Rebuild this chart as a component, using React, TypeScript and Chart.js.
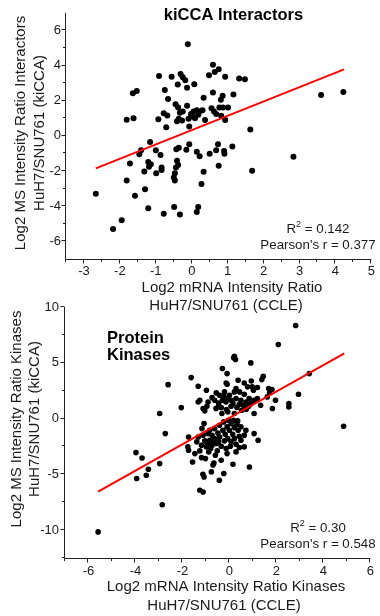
import React, { useEffect, useRef } from 'react';
import { Chart, registerables } from 'chart.js';

Chart.register(...registerables);

const FONT = '"Liberation Sans", Arial, Helvetica, sans-serif';

// ---------- Top chart: kiCCA Interactors ----------
const topX = [
  -0.11, 0.59, 0.75, 0.64, 0.48, 0.93, 1.32, 1.48, -0.91, -0.56, -0.31, -0.25, -0.18, -0.39, 0.07, -0.13,
  0.59, 1.16, 0.86, 0.81, 0.33, -0.75, -0.66, -1.64, -1.53, -0.45, -0.13, -0.78, -0.68, -0.38, -0.33, -0.25,
  -0.36, -0.41, -0.27, -0.09, -0.02, 0.05, 0.14, 0.22, 0.30, 0.37, 0.02, 0.09, 0.18, 0.55, 0.62, 0.77,
  0.87, 1.01, 0.68, 0.82, 0.93, -0.93, -0.71, -0.07, -1.81, -1.62, 1.63, -1.16, -1.41, -1.46, -1.00, -0.87,
  -0.43, -0.36, -0.07, -0.15, 0.14, 0.22, 0.50, 0.68, 0.73, 0.90, 0.91, 1.13, -1.72, -1.21, -1.14, -1.19,
  -0.84, -0.84, -0.41, -0.38, -0.44, 0.75, 1.68, -1.32, -0.99, -0.47, -0.50, 0.33, -0.47, -1.81, 0.27, -1.30,
  -1.58, -2.67, -1.21, -0.49, 0.18, 0.14, -0.78, -0.33, -1.95, -2.19, 2.83, 3.60, 4.22,
];
const topY = [
  5.21, 4.04, 3.79, 3.63, 3.45, 3.37, 3.26, 3.22, 3.41, 3.37, 3.52, 3.34, 3.17, 2.92, 2.94, 2.74,
  2.47, 2.36, 2.29, 2.05, 2.17, 2.61, 2.10, 2.42, 2.55, 1.80, 1.72, 1.29, 1.16, 1.61, 1.31, 1.39,
  0.98, 0.83, 0.87, 0.98, 1.24, 1.39, 1.46, 1.39, 1.46, 0.90, 1.11, 1.01, 1.20, 1.57, 1.39, 1.61,
  1.61, 1.61, 1.24, 1.15, 0.90, 0.94, 0.49, 0.54, 0.92, 1.01, 0.36, -0.34, -0.82, -1.05, -0.82, -1.08,
  -0.76, -0.67, -0.48, -0.79, -0.90, -1.16, -1.01, -0.82, -0.48, -0.86, -1.01, -0.60, -1.57, -1.48, -1.61, -1.76,
  -1.80, -1.94, -1.42, -1.65, -1.80, -1.70, -1.98, -2.02, -2.13, -2.13, -2.36, -2.04, -2.54, -2.54, -2.73, -3.03,
  -3.40, -3.29, -4.12, -4.04, -4.04, -4.33, -4.42, -4.47, -4.79, -5.30, -1.18, 2.32, 2.50,
];
const topFitX = [-2.67, 4.24];
const topFitY = [-1.85, 3.78];
const topXMajor = [-3, -2, -1, 0, 1, 2, 3, 4, 5];
const topXMinor = [-3.5, -2.5, -1.5, -0.5, 0.5, 1.5, 2.5, 3.5, 4.5];
const topYMajor = [-6, -4, -2, 0, 2, 4, 6];
const topYMinor = [-5, -3, -1, 1, 3, 5];

// ---------- Bottom chart: Protein Kinases ----------
const botX = [
  2.82, 2.08, 3.40, 2.94, 2.53, 2.53, -2.61, -1.63, -2.05, -2.97, -2.73, -3.98, -3.72, -3.45, -3.54, -3.95,
  -2.97, -2.86, -5.59, -1.26, -1.12, 4.86,
  0.21, 0.26, 0.18, 0.91, -0.30, -0.10, 0.37, 0.93, 1.44, 1.38, -0.14, -0.10, -1.33, 0.97, 1.19, 1.67,
  1.81, 1.71, -0.98, -0.74, -0.21, 0.21, 0.43, -0.42, 0.00, 0.63, 0.84, 1.96, 1.83, -1.26, -1.33, -1.12,
  -1.05, -0.63, -0.46, -0.30, -0.15, 0.07, 0.28, 0.49, 0.71, 0.91, 1.05, -0.57, -0.35, -0.13, 0.07, 0.32,
  0.52, 0.71, -0.46, -0.96,
  0.35, -1.08, -1.17, 0.70, 1.05, 1.22, 0.07, -0.10, 0.21, -0.28, 0.37, 0.00, -0.49, -0.18, 0.14, 0.42,
  0.49, -1.74, -1.77, -1.74, -1.33, -1.12, -0.91, -0.74, -1.05, -0.84, -0.63, -0.42, -0.07, 0.21, -1.19, -0.98,
  -0.74, -0.56, -0.35, -0.14, 0.04, 0.28, 0.42, -1.26, -0.88, -0.52, -0.60, -1.02, -0.35, 0.15, 0.85, -1.57,
  -0.70, -1.13, -1.08, -0.77, -0.24, -0.43, -0.66,
  -0.24, -0.07, 0.15, 0.42, 0.60, 0.82, 1.19, 1.33, 1.02, 1.61, 0.77, 0.63, 0.28, -0.56, -0.91, -0.32,
  -0.07, 0.21, 1.05,
  -0.24, -0.04, 0.18, -0.42, -0.63, -0.84, 0.32, 0.49, 0.63, -0.21, 0.07, -0.46, -0.70, -0.94, -0.80, -0.10,
  0.28, 0.63, -1.39, -1.47, -1.19,
];
const botY = [
  8.34, 6.63, 4.03, 2.18, 1.34, 1.04, 3.04, 3.67, 0.98, 0.45, -1.35, -3.05, -3.53, -4.54, -5.08, -5.38,
  -4.04, -7.72, -10.16, -6.43, -6.58, -0.69,
  5.59, 5.29, 5.44, 4.99, 4.48, 4.03, 3.43, 3.37, 3.79, 3.49, 3.19, 3.07, 2.90, 2.84, 2.78, 2.69,
  2.60, 2.30, 2.54, 1.88, 2.39, 2.39, 2.39, 2.09, 2.09, 2.18, 1.79, 1.64, 0.90, 1.64, 1.49, 0.90,
  0.69, 1.64, 1.40, 1.64, 1.49, 1.64, 1.79, 1.64, 1.49, 1.34, 1.64, 0.90, 0.99, 0.81, 1.10, 0.99,
  0.75, 0.81, 1.19, 1.10,
  -0.21, -0.45, -0.90, -1.05, -1.35, -1.94, -0.45, -0.75, -0.81, -1.05, -1.05, -1.05, -1.29, -1.41, -1.41, -1.59,
  -1.94, -1.65, -2.54, -2.84, -1.65, -1.50, -1.35, -1.50, -2.00, -1.94, -1.80, -1.65, -1.80, -1.80, -2.39, -2.54,
  -2.39, -2.24, -2.48, -2.69, -2.48, -2.30, -2.60, -2.90, -2.99, -2.90, -3.29, -3.59, -3.74, -4.10, -4.34, -3.89,
  -4.16, -5.00, -5.24, -4.78, -4.93, -5.53, -3.98,
  2.00, 1.79, 1.34, 1.28, 1.19, 1.10, 1.79, 1.19, 2.54, 1.94, 2.84, 3.19, 2.69, 2.30, 1.49, 0.45,
  0.60, 0.45, 0.45,
  -0.30, -0.15, -0.15, -0.60, -0.90, -1.05, -0.51, -0.75, -1.50, -2.00, -2.09, -2.09, -2.09, -2.24, -2.69, -3.14,
  -2.99, -2.54, -2.09, -3.14, -3.50,
];
const botFitX = [-5.59, 4.89];
const botFitY = [-6.56, 5.84];
const botXMajor = [-6, -4, -2, 0, 2, 4, 6];
const botXMinor = [-7, -5, -3, -1, 1, 3, 5];
const botYMajor = [-10, -5, 0, 5, 10];
const botYMinor = [-12.5, -7.5, -2.5, 2.5, 7.5];

type Decor = {
  xMajor: number[];
  xMinor: number[];
  yMajor: number[];
  yMinor: number[];
  titleLines: string[];
  titleX: number;
  titleY: number[];
  titleAlign: CanvasTextAlign;
  yTitle: string[];
  yTitleX: number[];
  yTitleCy: number;
  xTitle: string[];
  xTitleX: number[];
  xTitleY: number[];
  r2: string;
  pearson: string;
  statsCx: number;
  statsY: number[];
};

function decorPlugin(d: Decor) {
  return {
    id: 'decor',
    afterDraw(chart: any) {
      const ctx: CanvasRenderingContext2D = chart.ctx;
      const { left, right, top, bottom } = chart.chartArea;
      const xs = chart.scales.x;
      const ys = chart.scales.y;
      ctx.save();
      // axes
      ctx.strokeStyle = '#222';
      ctx.lineWidth = 1;
      ctx.beginPath();
      ctx.moveTo(left - 0.5, top);
      ctx.lineTo(left - 0.5, bottom + 0.5);
      ctx.lineTo(right, bottom + 0.5);
      ctx.stroke();
      // ticks
      const tick = (v: number, len: number, axis: 'x' | 'y') => {
        if (axis === 'x') {
          const p = Math.round(xs.getPixelForValue(v)) - 0.5;
          ctx.moveTo(p, bottom + 0.5);
          ctx.lineTo(p, bottom + 0.5 + len);
        } else {
          const p = Math.round(ys.getPixelForValue(v)) - 0.5;
          ctx.moveTo(left - 0.5, p);
          ctx.lineTo(left - 0.5 - len, p);
        }
      };
      ctx.beginPath();
      d.xMajor.forEach((v) => tick(v, 4, 'x'));
      d.xMinor.forEach((v) => tick(v, 2.5, 'x'));
      d.yMajor.forEach((v) => tick(v, 4, 'y'));
      d.yMinor.forEach((v) => tick(v, 2.5, 'y'));
      ctx.stroke();

      // title
      ctx.fillStyle = '#000';
      ctx.font = `bold 16.5px ${FONT}`;
      ctx.textAlign = d.titleAlign;
      ctx.textBaseline = 'middle';
      d.titleLines.forEach((t, i) => ctx.fillText(t, d.titleX, d.titleY[i]));

      // axis titles
      ctx.fillStyle = '#1a1a1a';
      ctx.font = `15px ${FONT}`;
      ctx.textAlign = 'center';
      d.xTitle.forEach((t, i) => ctx.fillText(t, d.xTitleX[i], d.xTitleY[i]));
      d.yTitle.forEach((t, i) => {
        ctx.save();
        ctx.translate(d.yTitleX[i], d.yTitleCy);
        ctx.rotate(-Math.PI / 2);
        ctx.fillText(t, 0, 0);
        ctx.restore();
      });

      // stats
      const big = `13.3px ${FONT}`;
      const small = `9px ${FONT}`;
      ctx.textAlign = 'left';
      ctx.font = big;
      const wR = ctx.measureText('R').width;
      const rest = ` = ${d.r2}`;
      const wRest = ctx.measureText(rest).width;
      ctx.font = small;
      const w2 = ctx.measureText('2').width;
      const start = d.statsCx - (wR + w2 + wRest) / 2;
      ctx.font = big;
      ctx.fillText('R', start, d.statsY[0]);
      ctx.fillText(rest, start + wR + w2, d.statsY[0]);
      ctx.font = small;
      ctx.fillText('2', start + wR, d.statsY[0] - 4.5);
      ctx.font = big;
      ctx.textAlign = 'center';
      ctx.fillText(`Pearson's r = ${d.pearson}`, d.statsCx, d.statsY[1]);
      ctx.restore();
    },
  };
}

function buildConfig(opts: {
  xs: number[];
  ys: number[];
  fitX: number[];
  fitY: number[];
  xMin: number;
  xMax: number;
  yMin: number;
  yMax: number;
  xMajor: number[];
  xMinor: number[];
  yMajor: number[];
  yMinor: number[];
  pad: { left: number; right: number; top: number; bottom: number };
  yWidth: number;
  xPad: number;
  yPad: number;
  radius: number;
  decor: Decor;
}) {
  const points = opts.xs.map((x, i) => ({ x, y: opts.ys[i] }));
  const fit = opts.fitX.map((x, i) => ({ x, y: opts.fitY[i] }));
  const xAll = [...opts.xMajor, ...opts.xMinor].sort((a, b) => a - b);
  const yAll = [...opts.yMajor, ...opts.yMinor].sort((a, b) => a - b);
  const tickFont = { family: FONT, size: 13 };
  return {
    type: 'scatter' as const,
    data: {
      datasets: [
        {
          data: fit,
          showLine: true,
          borderColor: '#ff0000',
          borderWidth: 2,
          pointRadius: 0,
          order: 0,
        },
        {
          data: points,
          pointRadius: opts.radius,
          pointBackgroundColor: '#000',
          pointBorderWidth: 0,
          pointHoverRadius: opts.radius,
          order: 1,
        },
      ],
    },
    options: {
      animation: false as const,
      responsive: false,
      devicePixelRatio: 1,
      layout: { padding: opts.pad },
      plugins: { legend: { display: false }, tooltip: { enabled: false }, title: { display: false } },
      events: [],
      scales: {
        x: {
          type: 'linear' as const,
          min: opts.xMin,
          max: opts.xMax,
          afterBuildTicks: (s: any) => {
            s.ticks = xAll.map((v) => ({ value: v }));
          },
          afterFit: (s: any) => {
            s.height = 30;
          },
          grid: { display: false, drawTicks: false },
          border: { display: false },
          ticks: {
            autoSkip: false,
            maxRotation: 0,
            padding: opts.xPad,
            color: '#1a1a1a',
            font: tickFont,
            callback: (v: any) => (opts.xMajor.includes(Number(v)) ? String(v) : ''),
          },
        },
        y: {
          type: 'linear' as const,
          min: opts.yMin,
          max: opts.yMax,
          afterBuildTicks: (s: any) => {
            s.ticks = yAll.map((v) => ({ value: v }));
          },
          afterFit: (s: any) => {
            s.width = opts.yWidth;
          },
          grid: { display: false, drawTicks: false },
          border: { display: false },
          ticks: {
            autoSkip: false,
            padding: opts.yPad,
            color: '#1a1a1a',
            font: tickFont,
            callback: (v: any) => (opts.yMajor.includes(Number(v)) ? String(v) : ''),
          },
        },
      },
    },
    plugins: [decorPlugin(opts.decor)],
  };
}

function ChartCanvas({ config }: { config: any }) {
  const ref = useRef<HTMLCanvasElement>(null);
  useEffect(() => {
    if (!ref.current) return;
    const chart = new Chart(ref.current, config);
    return () => chart.destroy();
  }, [config]);
  return (
    <canvas
      ref={ref}
      width={380}
      height={616}
      style={{ position: 'absolute', left: 0, top: 0, width: 380, height: 616 }}
    />
  );
}

const topConfig = buildConfig({
  xs: topX,
  ys: topY,
  fitX: topFitX,
  fitY: topFitY,
  xMin: -3.5,
  xMax: 5,
  yMin: -7,
  yMax: 7,
  xMajor: topXMajor,
  xMinor: topXMinor,
  yMajor: topYMajor,
  yMinor: topYMinor,
  pad: { left: 0, right: 4, top: 10, bottom: 616 - 259 - 30 },
  yWidth: 66,
  xPad: 5,
  yPad: 5,
  radius: 3,
  decor: {
    xMajor: topXMajor,
    xMinor: topXMinor,
    yMajor: topYMajor,
    yMinor: topYMinor,
    titleLines: ['kiCCA Interactors'],
    titleX: 233.5,
    titleY: [15],
    titleAlign: 'center',
    yTitle: ['Log2 MS Intensity Ratio Interactors', 'HuH7/SNU761 (kiCCA)'],
    yTitleX: [20.5, 40],
    yTitleCy: 133,
    xTitle: ['Log2 mRNA Intensity Ratio', 'HuH7/SNU761 (CCLE)'],
    xTitleX: [232, 226],
    xTitleY: [288, 306],
    r2: '0.142',
    pearson: '0.377',
    statsCx: 318,
    statsY: [229, 245],
  },
});

const botConfig = buildConfig({
  xs: botX,
  ys: botY,
  fitX: botFitX,
  fitY: botFitY,
  xMin: -7,
  xMax: 6,
  yMin: -12.5,
  yMax: 10,
  xMajor: botXMajor,
  xMinor: botXMinor,
  yMajor: botYMajor,
  yMinor: botYMinor,
  pad: { left: 0, right: 5, top: 307, bottom: 616 - 558 - 30 },
  yWidth: 65,
  xPad: 6,
  yPad: 6,
  radius: 2.8,
  decor: {
    xMajor: botXMajor,
    xMinor: botXMinor,
    yMajor: botYMajor,
    yMinor: botYMinor,
    titleLines: ['Protein', 'Kinases'],
    titleX: 107,
    titleY: [338, 355.5],
    titleAlign: 'left',
    yTitle: ['Log2 MS Intensity Ratio Kinases', 'HuH7/SNU761 (kiCCA)'],
    yTitleX: [16.5, 35],
    yTitleCy: 419,
    xTitle: ['Log2 mRNA Intensity Ratio Kinases', 'HuH7/SNU761 (CCLE)'],
    xTitleX: [226, 224],
    xTitleY: [587, 606],
    r2: '0.30',
    pearson: '0.548',
    statsCx: 318,
    statsY: [528, 544],
  },
});

export default function App() {
  return (
    <div style={{ position: 'absolute', left: 0, top: 0, width: 380, height: 616, background: '#fff' }}>
      <ChartCanvas config={topConfig} />
      <ChartCanvas config={botConfig} />
    </div>
  );
}
